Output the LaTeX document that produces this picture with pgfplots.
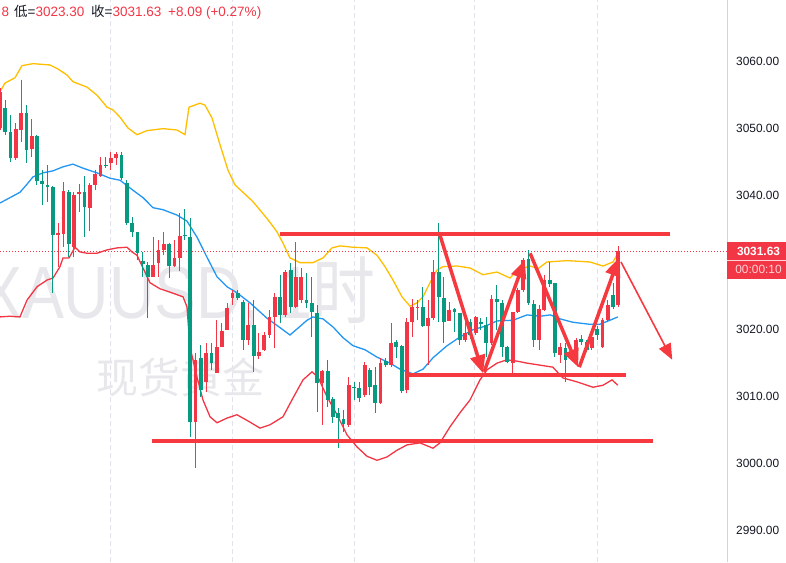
\documentclass[border=0pt]{standalone}
\usepackage{fontspec}
\setmainfont{Liberation Sans}
\newfontfamily\cjk{Noto Sans CJK SC}
\usepackage{pgfplots}
\pgfplotsset{compat=1.18}
\usepackage{pgfplotstable}
\usetikzlibrary{arrows.meta}

\definecolor{upred}{HTML}{F23645}
\definecolor{dngreen}{HTML}{089981}
\definecolor{bbup}{HTML}{FFBE00}
\definecolor{bbmid}{HTML}{2196F3}
\definecolor{bblow}{HTML}{F23645}
\definecolor{annred}{HTML}{F5393F}
\definecolor{wm}{HTML}{E8E8EC}
\definecolor{gridc}{HTML}{E0E3EB}
\definecolor{axisc}{HTML}{D1D4DC}
\definecolor{txt}{HTML}{131722}
\definecolor{pinktxt}{HTML}{FFD3D7}

% candles: i open high low close
\pgfplotstableread{
i o h l c
0 3050.0 3056.0 3049.7 3055.4
3 3045.5 3050.7 3045.2 3049.9
4 3049.7 3057.2 3047.9 3052.2
6 3046.9 3051.3 3045.7 3048.8
11 3034.0 3035.8 3029.3 3034.3
12 3034.2 3041.9 3032.2 3040.6
14 3032.2 3040.4 3030.7 3040.0
15 3040.1 3041.6 3037.5 3040.4
17 3038.1 3041.8 3034.6 3041.5
18 3041.5 3043.7 3040.7 3043.1
19 3042.8 3045.7 3042.7 3044.5
21 3044.8 3046.4 3043.7 3045.5
22 3045.5 3046.4 3044.5 3046.1
29 3027.8 3033.7 3027.8 3029.6
30 3029.9 3033.3 3027.8 3031.8
31 3031.8 3034.5 3031.0 3032.7
33 3029.4 3033.3 3029.3 3030.6
34 3030.6 3037.3 3028.7 3033.9
37 3006.1 3016.4 2999.3 3015.4
39 3012.1 3017.9 3010.6 3016.4
41 3013.4 3021.3 3013.4 3017.3
42 3017.3 3020.9 3017.3 3019.7
43 3019.9 3023.9 3019.9 3023.1
44 3024.6 3025.8 3023.6 3025.4
47 3018.4 3023.9 3017.6 3020.6
49 3016.0 3019.4 3015.5 3016.6
50 3016.9 3019.6 3016.7 3019.1
51 3019.1 3022.8 3018.7 3021.8
52 3021.8 3025.4 3017.2 3024.8
54 3022.1 3028.8 3021.8 3028.5
56 3023.3 3033.0 3023.1 3027.8
57 3024.3 3029.1 3023.9 3027.8
61 3011.9 3013.9 3005.7 3013.7
66 3005.7 3012.8 3005.4 3011.6
69 3010.1 3015.1 3009.9 3014.6
72 3009.0 3015.7 3008.8 3014.9
74 3014.6 3020.9 3014.3 3017.9
77 3010.9 3021.6 3010.4 3021.0
78 3021.0 3024.5 3018.8 3023.3
79 3023.1 3024.3 3021.3 3023.3
81 3020.4 3024.3 3014.6 3021.6
82 3021.6 3030.3 3021.3 3028.5
85 3021.2 3024.0 3021.2 3022.8
88 3018.4 3021.8 3018.1 3019.4
90 3019.4 3022.0 3019.1 3021.8
93 3017.9 3025.1 3017.6 3024.5
97 3014.9 3022.6 3013.1 3022.5
98 3022.5 3026.1 3022.4 3025.8
99 3025.8 3030.6 3025.5 3030.3
102 3018.4 3023.6 3016.9 3023.0
103 3022.8 3028.1 3022.7 3027.3
106 3016.1 3017.9 3014.9 3017.3
109 3015.4 3018.7 3015.1 3018.4
112 3017.2 3019.1 3016.9 3018.8
114 3017.3 3021.6 3017.2 3021.3
115 3021.3 3024.3 3021.0 3023.6
117 3023.54 3032.4 3023.3 3031.63
}\upcandles

\pgfplotstableread{
i o h l c
1 3053.0 3054.2 3049.0 3049.4
2 3049.4 3051.9 3044.9 3045.5
5 3052.2 3053.4 3044.8 3046.7
7 3048.8 3048.9 3041.5 3042.1
8 3042.1 3043.7 3038.5 3041.6
9 3041.5 3044.5 3039.0 3041.2
10 3041.2 3041.3 3025.4 3034.0
13 3040.4 3040.7 3030.7 3032.7
16 3040.4 3042.8 3033.7 3038.2
20 3044.5 3045.7 3044.0 3044.3
23 3046.0 3046.4 3042.2 3042.5
24 3041.8 3042.2 3035.5 3035.8
25 3035.8 3036.7 3033.7 3034.5
26 3034.5 3034.5 3030.3 3031.3
27 3030.1 3031.5 3027.8 3029.7
28 3029.6 3030.0 3021.6 3027.8
32 3032.7 3032.8 3027.6 3029.4
35 3034.0 3037.9 3033.3 3033.9
36 3033.7 3036.6 3003.9 3006.1
38 3015.7 3017.6 3009.9 3010.9
40 3016.4 3017.9 3013.9 3014.9
45 3025.4 3025.8 3024.3 3024.6
46 3024.0 3024.3 3016.9 3018.4
48 3020.6 3024.3 3013.6 3016.0
53 3024.8 3028.1 3020.9 3022.1
55 3028.8 3029.9 3022.4 3023.3
58 3024.3 3028.4 3023.1 3023.9
59 3023.9 3027.8 3018.8 3022.5
60 3022.4 3023.6 3007.6 3011.9
62 3013.7 3015.4 3008.4 3009.4
63 3009.6 3009.9 3006.0 3006.9
64 3007.5 3008.2 3002.2 3006.7
65 3006.6 3007.9 3004.6 3005.8
67 3011.3 3012.1 3009.4 3011.2
68 3011.2 3012.1 3009.1 3009.7
70 3013.9 3014.2 3010.1 3011.3
71 3011.6 3014.3 3007.5 3009.0
73 3015.2 3015.7 3014.3 3014.6
75 3018.1 3018.4 3015.7 3017.3
76 3017.5 3017.6 3010.4 3010.7
80 3023.3 3026.3 3020.3 3020.4
83 3028.5 3035.8 3021.0 3024.8
84 3024.6 3027.8 3017.9 3021.0
86 3023.0 3023.1 3019.6 3022.5
87 3022.4 3022.4 3017.6 3018.4
89 3021.0 3021.5 3018.5 3019.1
91 3021.0 3021.6 3019.9 3020.7
92 3020.6 3021.8 3015.8 3017.9
94 3024.5 3026.6 3019.9 3024.0
95 3023.9 3024.3 3015.8 3017.3
96 3017.3 3017.4 3014.9 3015.1
100 3030.4 3031.8 3023.6 3023.9
101 3023.7 3024.3 3017.3 3018.4
104 3027.3 3030.0 3026.3 3026.7
105 3026.9 3026.9 3015.8 3016.4
107 3017.2 3017.9 3012.1 3015.4
108 3016.6 3017.5 3015.5 3016.1
110 3018.5 3019.1 3017.6 3018.1
111 3018.1 3018.4 3016.6 3016.9
113 3020.0 3020.4 3018.4 3019.1
116 3025.1 3026.9 3023.0 3023.3
}\dncandles

% Bollinger bands
\pgfplotstableread{
x y
0 3055.4
0.95 3056.7
2.84 3057.5
4.16 3059.3
6.24 3059.6
9.46 3059.4
10.97 3058.8
12.68 3057.9
13.81 3056.9
16.46 3056.1
18.35 3054.9
20.25 3053.1
21.38 3052.7
22.71 3051.6
24.22 3050.0
25.92 3049.0
27.81 3049.6
30.84 3049.9
33.49 3049.7
35.00 3049.0
35.76 3053.1
37.84 3053.7
38.79 3053.4
40.11 3051.5
41.63 3047.5
43.14 3043.7
44.47 3041.5
47.87 3039.0
50.71 3036.3
52.41 3034.5
53.55 3032.8
54.87 3030.6
56.76 3029.9
59.22 3029.9
61.12 3030.6
62.82 3032.1
64.33 3032.4
66.79 3032.2
69.44 3032.1
71.33 3031.0
72.85 3029.3
74.36 3027.3
76.06 3024.8
77.58 3023.4
78.90 3023.9
80.04 3024.8
81.36 3026.9
82.69 3028.8
83.82 3029.3
86.47 3029.4
88.93 3029.1
91.39 3028.1
94.04 3028.5
96.50 3027.6
97.9 3028.8
100.3 3029.4
101.8 3029.0
103.5 3030.0
107.3 3030.2
111.6 3030.0
114.1 3029.4
116.0 3030.0
116.9 3031.3
}\bbupper

\pgfplotstableread{
x y
0 3038.8
1.89 3039.6
3.78 3040.4
5.11 3041.6
6.24 3042.7
8.14 3043.3
10.03 3043.6
11.92 3044.2
13.81 3044.6
15.70 3044.0
18.35 3043.3
20.81 3042.5
22.71 3042.2
25.17 3040.7
27.06 3039.6
28.95 3038.1
30.84 3037.8
33.49 3037.0
35.38 3036.1
37.28 3033.7
39.17 3030.7
41.06 3027.8
42.95 3026.3
44.84 3025.4
47.30 3023.9
50.52 3021.6
52.98 3020.2
54.87 3019.1
56.20 3020.0
58.09 3021.3
59.22 3021.8
61.12 3021.5
63.01 3020.3
64.90 3018.7
66.79 3017.5
69.06 3016.9
71.33 3015.8
73.79 3014.9
75.69 3014.0
78.15 3013.3
80.04 3014.0
81.93 3015.7
84.58 3017.5
87.04 3018.8
89.50 3019.9
91.77 3020.4
94.04 3021.2
97.07 3021.3
99.72 3022.1
102.2 3021.9
104.1 3022.1
106.0 3021.5
108.4 3021.0
111.6 3020.7
113.5 3020.7
115.4 3021.3
116.9 3021.8
}\bbbasis

\pgfplotstableread{
x y
0 3021.8
1.89 3021.9
3.78 3021.8
5.11 3024.3
7.00 3026.3
8.89 3027.3
10.03 3027.6
11.35 3029.3
11.92 3030.6
13.06 3030.6
14.19 3032.2
15.14 3031.5
16.46 3031.3
18.35 3031.3
20.25 3031.8
22.14 3032.1
24.03 3032.2
24.98 3031.5
25.92 3031.0
27.06 3029.1
28.38 3026.9
30.27 3026.0
32.17 3025.5
34.63 3024.8
35.38 3023.3
35.95 3017.3
37.28 3012.8
38.41 3009.4
39.74 3006.9
41.06 3006.0
42.95 3006.7
44.84 3007.2
47.30 3006.1
49.20 3005.2
51.09 3005.7
53.55 3006.9
55.44 3009.7
57.33 3012.4
59.03 3013.6
60.17 3012.8
61.87 3009.9
63.77 3007.2
65.66 3004.2
67.55 3002.4
69.44 3001.0
71.33 3000.4
73.23 3000.9
75.12 3001.9
77.01 3002.7
79.47 3003.0
81.93 3002.2
83.25 3003.0
85.15 3005.4
87.04 3007.5
88.93 3009.4
90.82 3012.4
92.15 3013.9
94.04 3014.9
95.93 3015.4
97.82 3015.2
99.72 3014.9
102.2 3014.6
104.6 3014.3
106.5 3012.7
109.2 3012.1
112.2 3011.3
114.1 3011.6
115.8 3012.4
116.9 3011.6
}\bblower

\begin{document}
\begin{tikzpicture}
\begin{axis}[
  scale only axis,
  width=727pt, height=562pt,
  xmin=0, xmax=137.56,
  ymin=2985.22, ymax=3069.10,
  axis line style={draw=none},
  tick style={draw=none},
  major tick length=0pt,
  xtick={21,43.9,67,89.7,113},
  xticklabels={},
  xmajorgrids,
  grid style={gridc, line width=1pt, dash pattern=on 5pt off 3pt},
  ytick={2990,3000,3010,3020,3040,3050,3060},
  yticklabel pos=right,
  yticklabel style={anchor=west, inner sep=0pt, xshift=9pt, text=txt,
    font=\fontsize{11.9}{14}\selectfont},
  candle/.style={draw=none, mark=none, forget plot,
    error bars/.cd, y dir=plus, y explicit, error mark=none},
  /pgf/number format/.cd, fixed, fixed zerofill, precision=2, 1000 sep={},
  assume math mode=true,
]
% watermark
\node[anchor=base west, inner sep=0pt, text=wm, xscale=0.85,
  font=\fontsize{74}{74}\selectfont] at (axis cs:-3.8,3021.6) {XAUUSD, 1{\cjk 时}};
\node[inner sep=0pt, text=wm, font=\fontsize{42}{42}\selectfont\cjk]
  at (axis cs:34.1,3012.7) {现货黄金};

% bollinger bands
\addplot[bbup, line width=1.3pt] table[x=x, y=y] {\bbupper};
\addplot[bbmid, line width=1.3pt] table[x=x, y=y] {\bbbasis};
\addplot[bblow, line width=1.3pt] table[x=x, y=y] {\bblower};

% last price line
\addplot[upred, line width=0.9pt, dash pattern=on 1pt off 2pt]
  coordinates {(0,3031.63) (137.56,3031.63)};

% candles: wicks then bodies
\addplot[candle, error bar style={draw=upred, line width=1pt}]
  table[x=i, y=l, y error plus expr=\thisrow{h}-\thisrow{l}] {\upcandles};
\addplot[candle, error bar style={draw=upred, line width=3.8pt}]
  table[x=i, y=o, y error plus expr={max(\thisrow{c}-\thisrow{o},0.15)}] {\upcandles};
\addplot[candle, error bar style={draw=dngreen, line width=1pt}]
  table[x=i, y=l, y error plus expr=\thisrow{h}-\thisrow{l}] {\dncandles};
\addplot[candle, error bar style={draw=dngreen, line width=3.8pt}]
  table[x=i, y=c, y error plus expr={max(\thisrow{o}-\thisrow{c},0.15)}] {\dncandles};

% hand drawn levels
\addplot[annred, line width=4pt] coordinates {(52.98,3034.2) (126.8,3034.2)};
\addplot[annred, line width=4pt] coordinates {(76.63,3013.1) (118.45,3013.1)};
\addplot[annred, line width=4pt] coordinates {(28.76,3003.3) (123.56,3003.3)};

% arrows
\addplot[annred, line width=3.5pt, -{Triangle[length=18pt,width=15pt]}]
  coordinates {(83.25,3034.0) (91.4,3013.4)};
\addplot[annred, line width=3.5pt, -{Triangle[length=18pt,width=15pt]}]
  coordinates {(91.6,3013.6) (99.3,3030.3)};
\addplot[annred, line width=3.5pt, -{Triangle[length=18pt,width=15pt]}]
  coordinates {(100.3,3031.3) (109.4,3014.3)};
\addplot[annred, line width=3.5pt, -{Triangle[length=18pt,width=15pt]}]
  coordinates {(109.6,3014.3) (117.1,3030.6)};
\addplot[annred, line width=1.6pt, -{Triangle[length=16pt,width=13pt]}]
  coordinates {(117.5,3030.0) (127.2,3015.4)};

% header
\node[anchor=base west, inner sep=0pt, text=upred, font=\fontsize{13.5}{16}\selectfont]
  at ([xshift=1.5pt,yshift=-17pt]rel axis cs:0,1) {8};
\node[anchor=base west, inner sep=0pt, font=\fontsize{13.5}{16}\selectfont]
  at ([xshift=14pt,yshift=-17pt]rel axis cs:0,1)
  {\textcolor{txt}{{\cjk 低}=}\textcolor{upred}{3023.30}};
\node[anchor=base west, inner sep=0pt, font=\fontsize{13.5}{16}\selectfont]
  at ([xshift=91pt,yshift=-17pt]rel axis cs:0,1)
  {\textcolor{txt}{{\cjk 收}=}\textcolor{upred}{3031.63}};
\node[anchor=base west, inner sep=0pt, text=upred, font=\fontsize{13.5}{16}\selectfont]
  at ([xshift=168pt,yshift=-17pt]rel axis cs:0,1) {+8.09 (+0.27\%)};

\coordinate (pr) at (axis cs:137.56,3031.63);
\end{axis}
% right scale line and price tag
\draw[axisc, line width=1pt] (current axis.south east) -- (current axis.north east);
\fill[upred] ([yshift=9pt]pr) rectangle ([xshift=59pt,yshift=-28pt]pr);
\draw[pinktxt, line width=0.5pt] ([yshift=-9pt]pr) -- ([xshift=59pt,yshift=-9pt]pr);
\node[text=white, inner sep=0pt, font=\fontsize{11.9}{14}\selectfont\bfseries]
  at ([xshift=31.5pt]pr) {3031.63};
\node[text=pinktxt, inner sep=0pt, font=\fontsize{11.9}{14}\selectfont]
  at ([xshift=31.5pt,yshift=-18.5pt]pr) {00:00:10};
\pgfresetboundingbox
\path (current axis.south west) rectangle ([xshift=59pt]current axis.north east);
\end{tikzpicture}
\end{document}
